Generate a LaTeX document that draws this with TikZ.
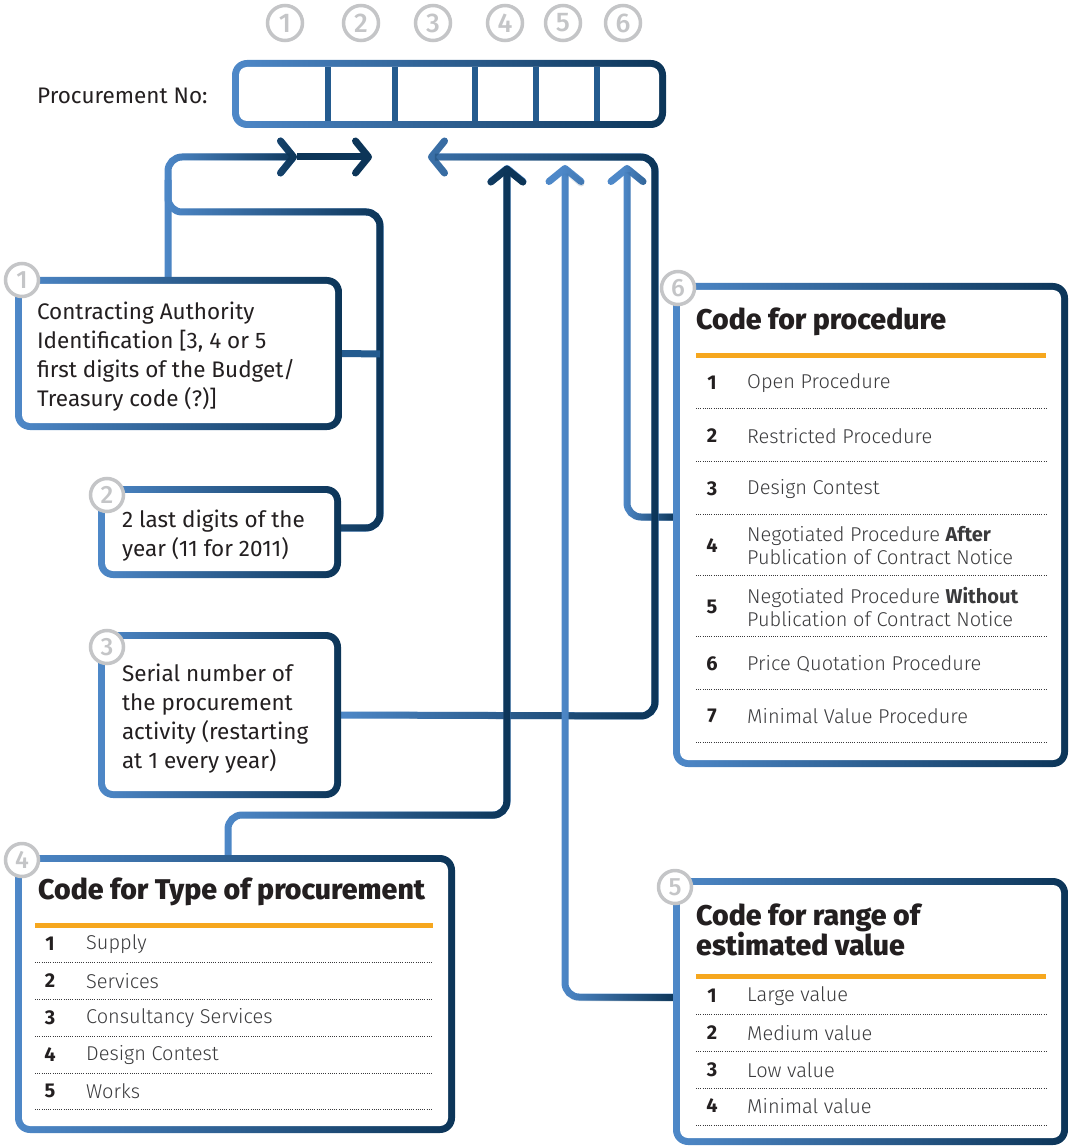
\documentclass[tikz,border=0pt]{standalone}
\usepackage{fontspec}
\setmainfont{Fira Sans}
\newfontfamily\lightfont{Fira Sans Light}
\newfontfamily\heavyfont{Fira Sans ExtraBold}
\newfontfamily\mediumfont{Fira Sans Medium}
\usetikzlibrary{arrows.meta, positioning, backgrounds, fadings}
\definecolor{lineblue}{HTML}{4E88C8}
\definecolor{linenavy}{HTML}{0C3558}
\definecolor{linemid}{HTML}{245B8F}
\definecolor{badgegray}{HTML}{C4C5C7}
\definecolor{rulegold}{HTML}{F6A71E}
\definecolor{inkdark}{HTML}{231F20}
\definecolor{inklight}{HTML}{3A3A3C}
\newcommand{\strongword}[1]{{\normalfont\bfseries #1}}
\tikzset{
  card/.style    = {rectangle, rounded corners=15pt, inner sep=0pt, draw=none,
                    left color=lineblue, right color=linenavy,
                    path picture={\fill[white, rounded corners=8pt]
                      ([shift={(7pt,-7pt)}]path picture bounding box.north west) rectangle
                      ([shift={(-7pt,7pt)}]path picture bounding box.south east);}},
  badge/.style   = {circle, draw=badgegray, line width=3.5pt, fill=white, minimum size=33pt,
                    inner sep=0pt, text=badgegray, font=\mediumfont\fontsize{25}{25}\selectfont},
  digit/.style   = {badge, minimum size=35pt, font=\mediumfont\fontsize{27}{27}\selectfont},
  bodytext/.style= {anchor=west, align=left, inner sep=0pt, text=inkdark,
                    font=\fontsize{22.5}{29}\selectfont},
  cardtitle/.style={anchor=west, align=left, inner sep=0pt, text=inkdark,
                    font=\heavyfont\fontsize{28.5}{28}\selectfont},
  rownum/.style  = {inner sep=0pt, text=inkdark, font=\fontsize{20}{20}\selectfont\bfseries},
  rowtext/.style = {anchor=west, align=left, inner sep=0pt, text=inklight,
                    font=\lightfont\fontsize{20}{23}\selectfont},
  goldrule/.style= {draw=rulegold, line width=5pt},
  rowsep/.style  = {draw=inklight, line width=1pt, dash pattern=on 1pt off 1.2pt},
  cellwall/.style= {draw=linemid, line width=6pt},
  wire/.style    = {draw=lineblue, line width=7pt, rounded corners=14pt,
                    -{Straight Barb[length=13pt, width=32pt, round]}},
  wirefade/.style= {wire, postaction={draw=linenavy, path fading=west}},
}
\begin{document}
\begin{tikzpicture}[x=1pt, y=-1pt]
\useasboundingbox (0,0) rectangle (1074,1147);

% the number and its six parts
\foreach \n/\x in {1/285, 2/361, 3/433, 4/505, 5/563, 6/623}
  \node[digit] (d\n) at (\x,23) {\n};
\node[bodytext] (plabel) at (37,96) {Procurement No:};
\node[card, minimum width=434pt, minimum height=68pt] (numbox) at (449,94) {};
\foreach \x in {328,395,475,536,597}
  \draw[cellwall] (\x,67) -- (\x,121);

% left cards
\node[card, minimum width=327pt, minimum height=153pt] (box1) at (178.5,353.5) {};
\node[card, minimum width=243pt, minimum height=92pt]  (box2) at (219.5,532) {};
\node[card, minimum width=243pt, minimum height=166pt] (box3) at (219.5,715) {};
\node[bodytext] (t1) at ([xshift=22pt, yshift=-3.5pt]box1.west) {Contracting Authority\\Identification [3, 4 or 5\\first digits of the Budget/\\Treasury code (?)]};
\node[bodytext] (t2) at ([xshift=24pt, yshift=-4pt]box2.west) {2 last digits of the\\year (11 for 2011)};
\node[bodytext] (t3) at ([xshift=24pt, yshift=-4pt]box3.west) {Serial number of\\the procurement\\activity (restarting\\at 1 every year)};

% code tables
\node[card, minimum width=440pt, minimum height=278pt] (box4) at (235,994) {};
\node[card, minimum width=395pt, minimum height=267pt] (box5) at (870.5,1011.5) {};
\node[card, minimum width=395pt, minimum height=484pt] (box6) at (870.5,525) {};

\node[cardtitle] (h4) at (38,892) {Code for Type of procurement};
\draw[goldrule] (35,925) -- (433,925);
\foreach \n/\y/\txt in {1/944/Supply, 2/981/Services, 3/1018/Consultancy Services, 4/1055/Design Contest, 5/1091/Works}{
  \node[rownum] (c\n) at (50,\y) {\n};
  \node[rowtext] (ct\n) at (86,\y) {\txt};
}
\foreach \y in {962,999,1036,1073,1109}
  \draw[rowsep] (35,\y) -- (433,\y);

\node[cardtitle] (h5) at (696,930) {Code for range of\\estimated value};
\draw[goldrule] (696,976) -- (1046,976);
\foreach \n/\y/\txt in {1/996/Large value, 2/1033/Medium value, 3/1070/Low value, 4/1106/Minimal value}{
  \node[rownum] (v\n) at (712,\y) {\n};
  \node[rowtext] (vt\n) at (747,\y) {\txt};
}
\foreach \y in {1014,1051,1088,1125}
  \draw[rowsep] (696,\y) -- (1046,\y);

\node[cardtitle] (h6) at (696,322) {Code for procedure};
\draw[goldrule] (696,355) -- (1046,355);
\foreach \n/\y/\txt in {1/383/Open Procedure, 2/436/Restricted Procedure, 3/489/Design Contest, 6/664/Price Quotation Procedure, 7/716/Minimal Value Procedure}{
  \node[rownum] (p\n) at (712,\y) {\n};
  \node[rowtext] (pt\n) at (747,\y) {\txt};
}
\node[rownum] (p4) at (712,545.5) {4};
\node[rowtext] (pt4) at (747,545.5) {Negotiated Procedure \strongword{After}\\Publication of Contract Notice};
\node[rownum] (p5) at (712,606.5) {5};
\node[rowtext] (pt5) at (747,606.5) {Negotiated Procedure \strongword{Without}\\Publication of Contract Notice};
\foreach \y in {408,461,514,575,636,689,742}
  \draw[rowsep] (696,\y) -- (1046,\y);

% badges
\foreach \b/\x/\y in {1/22/280, 2/107/495, 3/107/647, 4/22/860, 5/675/887, 6/678/288}
  \node[badge] (b\b) at (\x,\y) {\b};

% connectors
\coordinate (a1) at (297,157);
\coordinate (a2) at (372,157);
\coordinate (a3) at (428,157);
\coordinate (a4) at (507,165);
\coordinate (a5) at (565,165);
\coordinate (a6) at (627,165);
\begin{scope}[on background layer]
  \draw[wirefade] (box6.west |- 0,517) -- (627,517) -- (a6);
  \draw[wirefade] (box3.east) -- (655,716) -- (655,157) -- (a3);
  \draw[wirefade] (box1.north -| 168,0) -- (168,157) -- (a1);
  \draw[wire, draw=linenavy] (a1) -- (a2);
  \draw[wirefade, -] ([yshift=4pt]box2.east) -- (380,528) -- (380,212) -- (168,212) -- (168,180);
  \draw[wire, -, draw=linemid] (box1.east) -- (380,354);
  \draw[wirefade] (box4.north -| 228,0) -- (228,815) -- (507,815) -- (a4);
  \draw[wirefade] (box5.west |- 0,997) -- (565,997) -- (a5);
\end{scope}
\end{tikzpicture}
\end{document}
